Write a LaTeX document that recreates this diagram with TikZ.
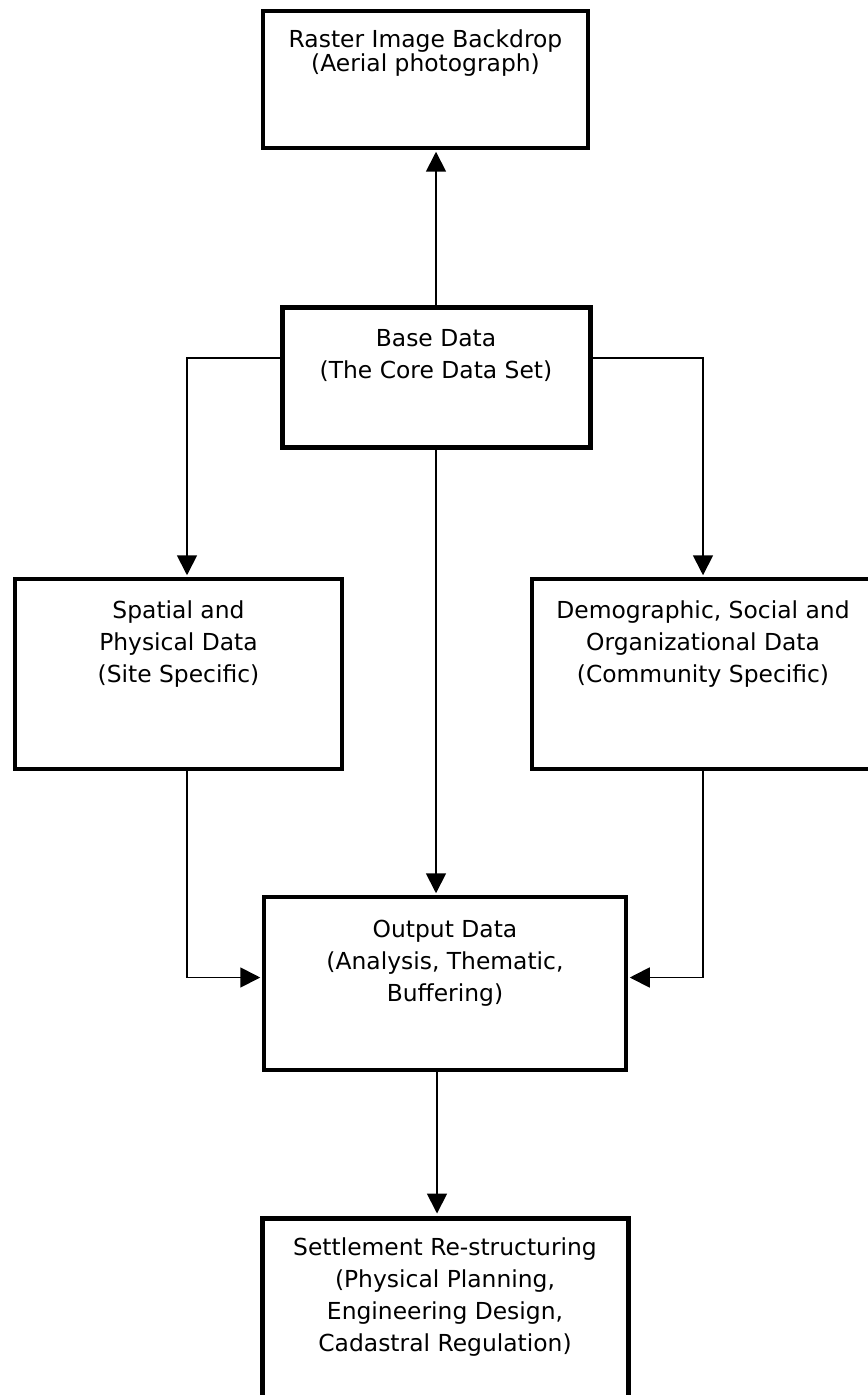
\documentclass[tikz,border=0pt]{standalone}
\usepackage{fontspec}
\setmainfont{DejaVu Sans}
\usetikzlibrary{arrows.meta,positioning}

\begin{document}
\begin{tikzpicture}[->,>={Triangle[length=10pt,width=10pt]},shorten >=1pt,
                    line width=0.9pt,node distance=150pt]
  \tikzstyle{box}=[draw=black,line width=1.75pt,align=center,inner sep=0pt,
                   font=\fontsize{11.7pt}{16pt}\selectfont]
  \tikzstyle{thick box}=[box,line width=2.5pt]

  \useasboundingbox (0,0) rectangle (433.5pt,-697.5pt);

  \node[thick box,minimum width=154pt,text height=35.5pt,text depth=34pt] (base)
    at (218pt,-188.75pt) {Base Data\\(The Core Data Set)};
  \node[box,minimum width=162.5pt,text height=30.5pt,text depth=38pt,
        font=\fontsize{11.7pt}{12pt}\selectfont] (raster)
    [above of=base,node distance=149pt,xshift=-5.25pt]
    {Raster Image Backdrop\\(Aerial photograph)};
  \node[box,minimum width=163.5pt,text height=51.5pt,text depth=43.5pt] (spatial)
    [below of=base,node distance=148.25pt,xshift=-128.75pt]
    {Spatial and\\Physical Data\\(Site Specific)};
  \node[box,minimum width=171pt,text height=51.5pt,text depth=43.5pt] (demo)
    [below of=base,node distance=148.25pt,xshift=133.5pt]
    {Demographic, Social and\\Organizational Data\\(Community Specific)};
  \node[box,minimum width=181pt,text height=52pt,text depth=34.5pt] (output)
    [below of=base,node distance=303pt,xshift=4.5pt]
    {Output Data\\(Analysis, Thematic,\\Buffering)};
  \node[thick box,minimum width=183pt,text height=66.5pt,text depth=34.5pt] (settle)
    [below of=output,node distance=167.75pt]
    {Settlement Re-structuring\\(Physical Planning,\\Engineering Design,\\Cadastral Regulation)};

  \draw (base.north) -- (base.north |- raster.south);
  \draw ([yshift=9.75pt]base.west) -| ([xshift=4.25pt]spatial.north);
  \draw ([yshift=9.75pt]base.east) -| (demo.north);
  \draw (base.south) -- (base.south |- output.north);
  \draw ([xshift=4.25pt]spatial.south) |- ([yshift=3pt]output.west);
  \draw (demo.south) |- ([yshift=3pt]output.east);
  \draw ([xshift=-4pt]output.south) -- ([xshift=-4pt]output.south |- settle.north);
\end{tikzpicture}
\end{document}
